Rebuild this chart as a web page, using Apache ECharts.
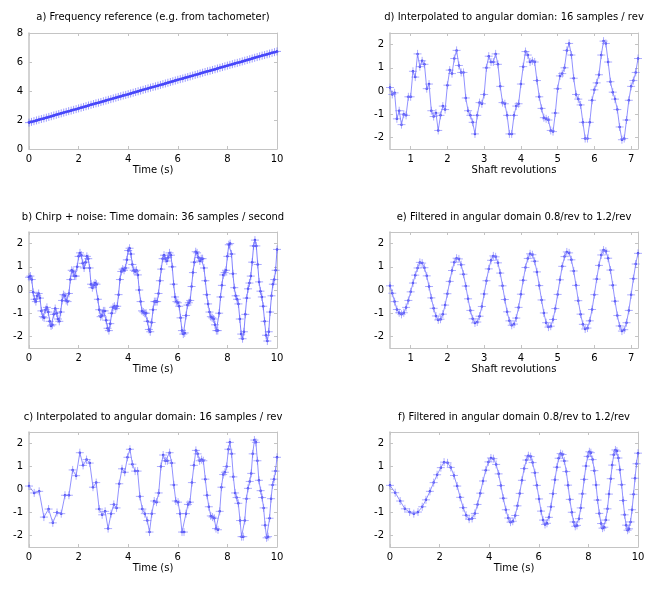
<!DOCTYPE html>
<html>
<head>
<meta charset="utf-8">
<script src="https://cdn.jsdelivr.net/npm/echarts@6/dist/echarts.min.js"></script>
<style>html,body{margin:0;padding:0;background:#fff}#c{width:670px;height:594px}</style>
</head>
<body>
<div id="c"></div>
<script>
// ---------- data ----------
const titles = [
  'a) Frequency reference (e.g. from tachometer)',
  'b) Chirp + noise: Time domain: 36 samples / second',
  'c) Interpolated to angular domain: 16 samples / rev',
  'd) Interpolated to angular domian: 16 samples / rev',
  'e) Filtered in angular domain 0.8/rev to 1.2/rev',
  'f) Filtered in angular domain 0.8/rev to 1.2/rev'
];
const xNames = ['Time (s)', 'Time (s)', 'Time (s)', 'Shaft revolutions', 'Shaft revolutions', 'Time (s)'];
const timeTicks = [0, 2, 4, 6, 8, 10];
const revTicks = [1, 2, 3, 4, 5, 6, 7];
const freqTicks = [0, 2, 4, 6, 8];
const sigTicks = [-2, -1, 0, 1, 2];

// a) tachometer frequency
const tachoTime = [0,0.1,0.2,0.3,0.4,0.5,0.6,0.7,0.8,0.9,1,1.1,1.2,1.3,1.4,1.5,1.6,1.7,1.8,1.9,2,2.1,2.2,2.3,2.4,2.5,2.6,2.7,2.8,2.9,3,3.1,3.2,3.3,3.4,3.5,3.6,3.7,3.8,3.9,4,4.1,4.2,4.3,4.4,4.5,4.6,4.7,4.8,4.9,5,5.1,5.2,5.3,5.4,5.5,5.6,5.7,5.8,5.9,6,6.1,6.2,6.3,6.4,6.5,6.6,6.7,6.8,6.9,7,7.1,7.2,7.3,7.4,7.5,7.6,7.7,7.8,7.9,8,8.1,8.2,8.3,8.4,8.5,8.6,8.7,8.8,8.9,9,9.1,9.2,9.3,9.4,9.5,9.6,9.7,9.8,9.9,10];
const tachoFreq = [1.82,1.87,1.92,1.97,2.02,2.07,2.11,2.16,2.21,2.26,2.31,2.36,2.41,2.46,2.51,2.56,2.61,2.65,2.70,2.75,2.80,2.85,2.90,2.95,3.00,3.05,3.10,3.15,3.19,3.24,3.29,3.34,3.39,3.44,3.49,3.54,3.59,3.64,3.69,3.73,3.78,3.83,3.88,3.93,3.98,4.03,4.08,4.13,4.18,4.23,4.28,4.32,4.37,4.42,4.47,4.52,4.57,4.62,4.67,4.72,4.77,4.82,4.86,4.91,4.96,5.01,5.06,5.11,5.16,5.21,5.26,5.31,5.36,5.40,5.45,5.50,5.55,5.60,5.65,5.70,5.75,5.80,5.85,5.90,5.94,5.99,6.04,6.09,6.14,6.19,6.24,6.29,6.34,6.39,6.44,6.48,6.53,6.58,6.63,6.68,6.73];

// b) raw time-domain signal
const rawTime = [0,0.056,0.111,0.167,0.222,0.278,0.333,0.389,0.444,0.5,0.556,0.611,0.667,0.722,0.778,0.833,0.889,0.944,
1,1.056,1.111,1.167,1.222,1.278,1.333,1.389,1.444,1.5,1.556,1.611,1.667,1.722,1.778,1.833,1.889,1.944,
2,2.056,2.111,2.167,2.222,2.278,2.333,2.389,2.444,2.5,2.556,2.611,2.667,2.722,2.778,2.833,2.889,2.944,
3,3.056,3.111,3.167,3.222,3.278,3.333,3.389,3.444,3.5,3.556,3.611,3.667,3.722,3.778,3.833,3.889,3.944,
4,4.056,4.111,4.167,4.222,4.278,4.333,4.389,4.444,4.5,4.556,4.611,4.667,4.722,4.778,4.833,4.889,4.944,
5,5.056,5.111,5.167,5.222,5.278,5.333,5.389,5.444,5.5,5.556,5.611,5.667,5.722,5.778,5.833,5.889,5.944,
6,6.056,6.111,6.167,6.222,6.278,6.333,6.389,6.444,6.5,6.556,6.611,6.667,6.722,6.778,6.833,6.889,6.944,
7,7.056,7.111,7.167,7.222,7.278,7.333,7.389,7.444,7.5,7.556,7.611,7.667,7.722,7.778,7.833,7.889,7.944,
8,8.056,8.111,8.167,8.222,8.278,8.333,8.389,8.444,8.5,8.556,8.611,8.667,8.722,8.778,8.833,8.889,8.944,
9,9.056,9.111,9.167,9.222,9.278,9.333,9.389,9.444,9.5,9.556,9.611,9.667,9.722,9.778,9.833,9.889,9.944,10];
const rawSignal = [0.55,0.6,0.45,-0.1,-0.4,-0.5,-0.25,-0.15,-0.35,-0.9,-1.15,-1.2,-0.85,-0.75,-0.95,-1.35,-1.55,-1.5,
-1.05,-0.8,-1.0,-1.25,-1.35,-0.95,-0.45,-0.2,-0.25,-0.45,-0.5,-0.15,0.45,0.85,0.8,0.6,0.6,1.0,
1.45,1.6,1.5,1.15,0.95,1.2,1.45,1.35,0.95,0.25,0.1,0.2,0.3,0.25,-0.4,-0.85,-1.15,-1.1,
-0.9,-0.9,-1.3,-1.65,-1.75,-1.45,-1.0,-0.75,-0.7,-0.8,-0.7,-0.2,0.45,0.8,0.9,0.85,0.95,1.3,
1.7,1.8,1.55,1.1,0.85,0.8,0.85,0.65,0.0,-0.5,-0.9,-0.95,-1.0,-1.0,-1.35,-1.7,-1.8,-1.4,
-0.85,-0.5,-0.5,-0.5,-0.15,0.4,0.9,1.35,1.5,1.35,1.25,1.4,1.6,1.5,1.0,0.25,-0.3,-0.5,
-0.55,-0.7,-1.2,-1.75,-1.9,-1.85,-1.1,-0.65,-0.55,-0.45,0.15,0.75,1.2,1.65,1.6,1.4,1.25,1.35,
1.35,0.95,0.4,-0.2,-0.6,-0.95,-1.15,-1.2,-1.25,-1.5,-1.75,-1.75,-1.0,-0.3,0.2,0.65,0.75,0.85,
1.45,1.95,2.0,1.55,0.7,0.1,-0.25,-0.4,-0.6,-1.25,-1.9,-2.1,-1.8,-1.05,-0.35,0.05,0.3,0.6,
1.2,1.9,2.15,1.9,1.1,0.35,-0.05,-0.3,-0.7,-1.35,-1.95,-2.2,-1.8,-0.95,-0.25,0.25,0.45,0.85,1.75];

// angular samples (16 / rev): their time, shaft revolution, interpolated and filtered values
const angTime = [0.00,0.21,0.41,0.60,0.79,0.96,1.13,1.30,1.45,1.61,
1.76,1.90,2.05,2.18,2.32,2.45,2.58,2.71,2.83,2.95,
3.07,3.19,3.31,3.42,3.53,3.64,3.75,3.86,3.97,4.07,
4.17,4.28,4.38,4.47,4.57,4.67,4.77,4.86,4.95,5.05,
5.14,5.23,5.32,5.41,5.50,5.58,5.67,5.75,5.84,5.92,
6.01,6.09,6.17,6.25,6.33,6.41,6.49,6.57,6.65,6.73,
6.80,6.88,6.96,7.03,7.11,7.18,7.25,7.33,7.40,7.47,
7.54,7.62,7.69,7.76,7.83,7.90,7.97,8.04,8.10,8.17,
8.24,8.31,8.37,8.44,8.51,8.57,8.64,8.70,8.77,8.83,
8.90,8.96,9.02,9.09,9.15,9.21,9.27,9.34,9.40,9.46,
9.52,9.58,9.64,9.70,9.76,9.82,9.88,9.94,10.00];
const angRevs = [0.4375,0.5,0.5625,0.625,0.6875,0.75,0.8125,0.875,0.9375,
1,1.0625,1.125,1.1875,1.25,1.3125,1.375,1.4375,1.5,1.5625,1.625,1.6875,1.75,1.8125,1.875,1.9375,
2,2.0625,2.125,2.1875,2.25,2.3125,2.375,2.4375,2.5,2.5625,2.625,2.6875,2.75,2.8125,2.875,2.9375,
3,3.0625,3.125,3.1875,3.25,3.3125,3.375,3.4375,3.5,3.5625,3.625,3.6875,3.75,3.8125,3.875,3.9375,
4,4.0625,4.125,4.1875,4.25,4.3125,4.375,4.4375,4.5,4.5625,4.625,4.6875,4.75,4.8125,4.875,4.9375,
5,5.0625,5.125,5.1875,5.25,5.3125,5.375,5.4375,5.5,5.5625,5.625,5.6875,5.75,5.8125,5.875,5.9375,
6,6.0625,6.125,6.1875,6.25,6.3125,6.375,6.4375,6.5,6.5625,6.625,6.6875,6.75,6.8125,6.875,6.9375,
7,7.0625,7.125,7.1875];
const angSignal = [0.15,-0.15,-0.08,-1.2,-0.85,-1.45,-1.0,-1.05,-0.25,-0.25,
0.85,0.6,1.6,1.05,1.3,1.15,0.1,0.3,-0.85,-1.1,
-0.95,-1.7,-1.05,-0.65,-0.8,0.25,0.9,0.75,1.4,1.75,
1.1,0.8,0.8,-0.3,-0.85,-1.05,-1.35,-1.85,-1.05,-0.5,
-0.55,-0.15,1.0,1.5,1.25,1.25,1.6,1.15,0.2,-0.5,
-0.55,-1.05,-1.85,-1.85,-1.05,-0.65,-0.55,0.3,1.05,1.7,
1.55,1.25,1.3,1.25,0.45,-0.25,-0.75,-1.15,-1.2,-1.25,
-1.7,-1.75,-0.95,0.1,0.65,0.75,1.0,1.75,2.05,1.55,
0.55,-0.15,-0.35,-0.6,-1.35,-2.05,-2.05,-1.35,-0.4,0.05,
0.35,0.7,1.55,2.15,2.05,1.25,0.4,-0.05,-0.35,-0.8,
-1.55,-2.1,-2.05,-1.25,-0.4,0.2,0.45,0.8,1.4];
const filtSignal = [0.18,-0.14,-0.5,-0.84,-0.98,-1.05,-0.98,-0.75,-0.45,-0.08,
0.3,0.64,0.95,1.19,1.16,0.96,0.61,0.15,-0.34,-0.79,
-1.12,-1.29,-1.26,-1.04,-0.65,-0.16,0.37,0.84,1.2,1.37,
1.34,1.09,0.68,0.17,-0.38,-0.88,-1.24,-1.42,-1.38,-1.13,
-0.71,-0.17,0.4,0.91,1.28,1.47,1.43,1.17,0.73,0.18,
-0.41,-0.94,-1.33,-1.52,-1.47,-1.21,-0.75,-0.18,0.42,0.97,
1.36,1.56,1.52,1.24,0.78,0.19,-0.43,-0.99,-1.41,-1.6,
-1.56,-1.27,-0.8,-0.19,0.44,1.02,1.44,1.64,1.6,1.3,
0.82,0.2,-0.46,-1.04,-1.48,-1.68,-1.64,-1.33,-0.84,-0.2,
0.47,1.06,1.51,1.72,1.67,1.37,0.86,0.21,-0.48,-1.1,
-1.55,-1.77,-1.71,-1.41,-0.88,-0.21,0.49,1.12,1.58];

// ---------- chart ----------
const FONT = 'DejaVu Sans';
const FRAME = '#c4c4c4';
const zip = (xs, ys) => xs.map((x, i) => [x, ys[i]]);

const grids = [
  {left: 29, top: 33, width: 248, height: 116},
  {left: 29, top: 232, width: 248, height: 116},
  {left: 29, top: 432, width: 248, height: 115},
  {left: 390, top: 33, width: 248, height: 116},
  {left: 390, top: 232, width: 248, height: 116},
  {left: 390, top: 432, width: 248, height: 115}
];
const titleY = [17, 217, 417, 17, 217, 417];

const panels = [
  {x: tachoTime, y: tachoFreq, xr: [0, 10], xt: timeTicks, yr: [0, 8], yt: freqTicks,
   line: {color: '#1414f0', width: 2}, mark: 'rgba(90,90,255,0.6)'},
  {x: rawTime, y: rawSignal, xr: [0, 10], xt: timeTicks, yr: [-2.5, 2.5], yt: sigTicks,
   line: {color: 'rgba(100,100,255,0.8)', width: 1}, mark: 'rgba(110,110,255,0.6)'},
  {x: angTime, y: angSignal, xr: [0, 10], xt: timeTicks, yr: [-2.5, 2.5], yt: sigTicks,
   line: {color: 'rgba(110,110,255,0.75)', width: 1}, mark: 'rgba(120,120,255,0.6)'},
  {x: angRevs, y: angSignal, xr: [0.4375, 7.1875], xt: revTicks, yr: [-2.5, 2.5], yt: sigTicks,
   line: {color: 'rgba(110,110,255,0.75)', width: 1}, mark: 'rgba(120,120,255,0.6)'},
  {x: angRevs, y: filtSignal, xr: [0.4375, 7.1875], xt: revTicks, yr: [-2.5, 2.5], yt: sigTicks,
   line: {color: 'rgba(110,110,255,0.75)', width: 1}, mark: 'rgba(120,120,255,0.6)'},
  {x: angTime, y: filtSignal, xr: [0, 10], xt: timeTicks, yr: [-2.5, 2.5], yt: sigTicks,
   line: {color: 'rgba(110,110,255,0.75)', width: 1}, mark: 'rgba(120,120,255,0.6)'}
];

const PLUS = 'path://M0,5L10,5M5,0L5,10';
const xAxes = [], yAxes = [], series = [], graphics = [];
panels.forEach((p, i) => {
  const tick = {show: true, inside: true, length: 3, lineStyle: {color: FRAME}};
  const lbl = {color: '#000', fontSize: 10, fontFamily: FONT};
  xAxes.push({
    type: 'value', gridIndex: i, min: p.xr[0], max: p.xr[1], position: 'bottom',
    axisLine: {show: true, onZero: false, lineStyle: {color: FRAME}},
    axisTick: Object.assign({customValues: p.xt}, tick),
    axisLabel: Object.assign({customValues: p.xt, margin: 5}, lbl),
    splitLine: {show: false},
    name: xNames[i], nameLocation: 'middle', nameGap: 16,
    nameTextStyle: {color: '#000', fontSize: 10, fontFamily: FONT}
  });
  xAxes.push({
    type: 'value', gridIndex: i, min: p.xr[0], max: p.xr[1], position: 'top',
    axisLine: {show: true, onZero: false, lineStyle: {color: FRAME}},
    axisTick: Object.assign({customValues: p.xt}, tick),
    axisLabel: {show: false}, splitLine: {show: false}
  });
  yAxes.push({
    type: 'value', gridIndex: i, min: p.yr[0], max: p.yr[1], position: 'left',
    axisLine: {show: true, onZero: false, lineStyle: {color: FRAME, width: 1.5}},
    axisTick: Object.assign({customValues: p.yt}, tick),
    axisLabel: Object.assign({customValues: p.yt, margin: 6}, lbl),
    splitLine: {show: false}
  });
  yAxes.push({
    type: 'value', gridIndex: i, min: p.yr[0], max: p.yr[1], position: 'right',
    axisLine: {show: true, onZero: false, lineStyle: {color: FRAME}},
    axisTick: Object.assign({customValues: p.yt}, tick),
    axisLabel: {show: false}, splitLine: {show: false}
  });
  const pts = zip(p.x, p.y);
  series.push({
    type: 'line', xAxisIndex: 2 * i, yAxisIndex: 2 * i, data: pts,
    symbol: PLUS, symbolSize: 8, showSymbol: true, showAllSymbol: true,
    lineStyle: p.line,
    itemStyle: {color: 'rgba(0,0,0,0)', borderColor: p.mark, borderWidth: 1},
    animation: false, silent: true, clip: true
  });
  series.push({
    type: 'scatter', xAxisIndex: 2 * i, yAxisIndex: 2 * i, data: pts,
    symbol: 'circle', symbolSize: 2.5,
    itemStyle: {color: '#0000e0'}, animation: false, silent: true
  });
  const g = grids[i];
  graphics.push({
    type: 'text', x: g.left + g.width / 2, y: titleY[i],
    style: {text: titles[i], fill: '#000', font: '10px "' + FONT + '"', align: 'center', verticalAlign: 'middle'}
  });
});

const chart = echarts.init(document.getElementById('c'), null, {renderer: 'canvas'});
chart.setOption({
  backgroundColor: '#fff',
  animation: false,
  grid: grids.map(g => Object.assign({show: false, containLabel: false}, g)),
  xAxis: xAxes,
  yAxis: yAxes,
  series: series,
  graphic: graphics
});
</script>
</body>
</html>
